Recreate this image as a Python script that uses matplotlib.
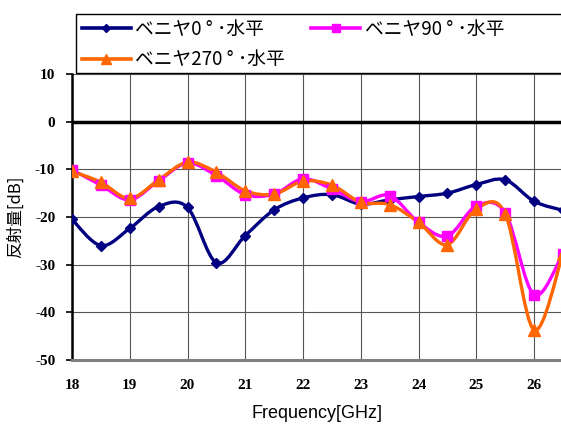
import numpy as np
import matplotlib
matplotlib.use("Agg")
import matplotlib.pyplot as plt
from matplotlib.path import Path
from matplotlib.patches import PathPatch, Rectangle
from matplotlib.lines import Line2D

plt.rcParams["axes.unicode_minus"] = False

freq = [18, 18.5, 19, 19.5, 20, 20.5, 21, 21.5, 22, 22.5, 23, 23.5, 24, 24.5, 25, 25.5, 26, 26.5]
s0 = [-20.5, -26.0, -22.4, -17.8, -18.0, -29.6, -23.9, -18.5, -16.0, -15.3, -17.3, -16.4, -15.7, -15.0, -13.2, -12.2, -16.7, -18.6]
s90 = [-10.1, -13.3, -16.4, -12.4, -8.7, -11.3, -15.3, -15.2, -12.0, -14.1, -16.8, -15.5, -21.1, -24.0, -17.7, -19.1, -36.3, -27.7]
s270 = [-10.4, -12.7, -16.1, -12.2, -8.5, -10.6, -14.5, -15.2, -12.5, -13.3, -16.9, -17.4, -21.1, -25.8, -18.3, -19.3, -43.7, -27.7]
labels = ["ベニヤ0 ° ･水平", "ベニヤ90 ° ･水平", "ベニヤ270 ° ･水平"]
colors = ["#000080", "#FF00FF", "#FF6600"]
markers = ["D", "s", "^"]
msizes = [5, 7, 8]
xticks = [18, 19, 20, 21, 22, 23, 24, 25, 26]
yticks = [10, 0, -10, -20, -30, -40, -50]

W, H = 561, 425
fig = plt.figure(figsize=(W / 100, H / 100), dpi=100)
x0 = 72; x1 = 72 + 8.5 * 57.75
ytop, ybot = 74, 360
ax = fig.add_axes([x0 / W, 1 - ybot / H, (x1 - x0) / W, (ybot - ytop) / H])
ax.set_xlim(18, 26.5)
ax.set_ylim(-50, 10)


def smooth_path(xs, ys):
    pts = np.column_stack([xs, ys]).astype(float)
    n = len(pts)
    verts = [pts[0]]
    codes = [Path.MOVETO]
    for i in range(n - 1):
        p0 = pts[i - 1] if i > 0 else pts[i]
        p1 = pts[i]
        p2 = pts[i + 1]
        p3 = pts[i + 2] if i + 2 < n else pts[i + 1]
        c1 = p1 + (p2 - p0) / 6.0
        c2 = p2 - (p3 - p1) / 6.0
        verts += [c1, c2, p2]
        codes += [Path.CURVE4] * 3
    return Path(np.array(verts), codes)


handles = []
for ys, c, m, ms, lab in zip([s0, s90, s270], colors, markers, msizes, labels):
    patch = PathPatch(smooth_path(freq, ys), facecolor="none", edgecolor=c, lw=2.4,
                      transform=ax.transData, zorder=3, capstyle="round", joinstyle="round")
    ax.add_patch(patch)
    ax.plot(freq, ys, linestyle="none", marker=m, color=c, markersize=ms, zorder=4)
    handles.append(Line2D([], [], color=c, lw=2.6, marker=m, markersize=ms - 1, label=lab))

ax.set_xticks(xticks)
ax.set_yticks(yticks)
ax.grid(True, color="#555555", lw=0.8)
ax.axhline(0, color="black", lw=2.5, zorder=2)
for s in ["top", "right"]:
    ax.spines[s].set_visible(False)
ax.spines["left"].set_color("black")
ax.spines["left"].set_linewidth(1.8)
ax.spines["bottom"].set_color("#808080")
ax.spines["bottom"].set_linewidth(2.2)
ax.tick_params(axis="x", length=0, pad=14)
ax.tick_params(axis="y", length=4, width=1.2, direction="out", pad=8)
for t in ax.get_xticklabels() + ax.get_yticklabels():
    t.set_fontfamily("Liberation Serif")
    t.set_fontweight("bold")
    t.set_fontsize(11)

ax.set_xlabel("Frequency[GHz]", fontfamily="Liberation Sans", fontsize=13, labelpad=9)
ax.set_ylabel("反射量[dB]", fontfamily=["Noto Sans CJK JP", "DejaVu Sans"], fontsize=12, labelpad=8)

# legend frame (extends past the right edge like the reference)
fig.patches.append(Rectangle((76 / W, 1 - 73 / H), (600 - 76) / W, 59 / H,
                             transform=fig.transFigure, facecolor="white",
                             edgecolor="black", lw=1.0, zorder=0))
order = [0, 2, 1]
leg = fig.legend(handles=[handles[i] for i in order], loc="upper left", ncol=2,
                 bbox_to_anchor=(80 / W, 1 - 17 / H),
                 prop={"family": ["Noto Sans CJK JP", "DejaVu Sans"], "size": 13.5},
                 frameon=False, handlelength=2.6,
                 handletextpad=0.25, borderaxespad=0, borderpad=0.1, labelspacing=0.5,
                 columnspacing=1.4)

fig.savefig("out.png", dpi=100)
